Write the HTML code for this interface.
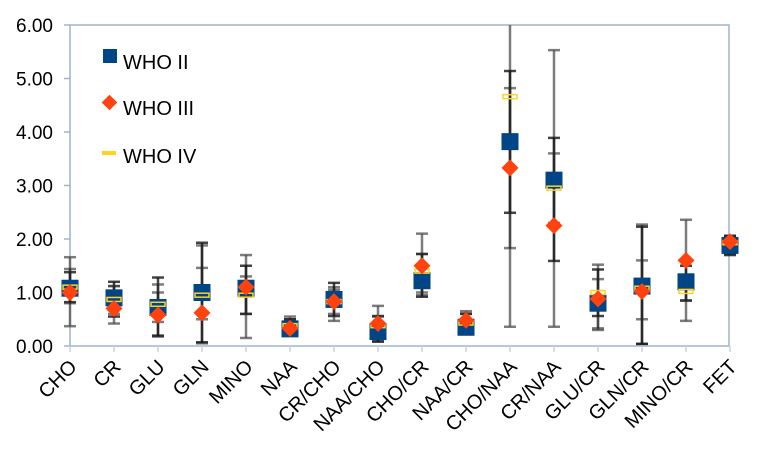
<!DOCTYPE html>
<html><head><meta charset="utf-8"><style>
body{margin:0;background:#fff}
svg text{font-family:"Liberation Sans",Arial,sans-serif;fill:#000}
</style></head><body>
<svg id="chart" width="773" height="457" xmlns="http://www.w3.org/2000/svg">
<g id="grid"></g>
<g id="bars"></g>
<g id="marks"></g>
<g id="legend">
<rect x="103" y="49" width="14" height="14" fill="#004586"/>
<text x="123" y="69" font-size="20">WHO II</text>
<rect x="104" y="97" width="11" height="11" fill="#ff420e" transform="rotate(45 109.5 102.5)"/>
<text x="123" y="115" font-size="20">WHO III</text>
<rect x="102" y="151" width="14" height="4" fill="#ffd320"/>
<text x="123" y="163" font-size="20">WHO IV</text>
</g>
</svg>
<script>
const categories=["CHO","CR","GLU","GLN","MINO","NAA","CR/CHO","NAA/CHO","CHO/CR","NAA/CR","CHO/NAA","CR/NAA","GLU/CR","GLN/CR","MINO/CR","FET"];
const who2=[1.08,0.9,0.72,1.0,1.08,0.32,0.87,0.27,1.22,0.35,3.82,3.1,0.8,1.12,1.2,1.88];
const who3=[1.0,0.7,0.58,0.62,1.1,0.33,0.83,0.42,1.5,0.48,3.33,2.25,0.88,1.02,1.6,1.95];
const who4=[1.1,0.87,0.78,0.95,0.95,0.38,0.83,0.38,1.4,0.43,4.66,2.95,1.0,1.08,1.02,1.93];
const who2Low=[0.82,0.55,0.18,0.07,0.6,0.2,0.56,0.08,0.92,0.25,2.49,1.59,0.56,0.04,0.85,1.7];
const who2High=[1.38,1.2,1.28,1.93,1.5,0.5,1.18,0.56,1.72,0.6,5.14,3.89,1.43,2.23,1.5,2.06];
const who3Low=[0.37,0.42,0.2,0.05,0.15,0.25,0.47,0.1,0.95,0.3,0.36,0.36,0.3,0.04,0.47,1.72];
const who3High=[1.66,1.12,1.0,1.88,1.7,0.55,1.1,0.75,2.1,0.65,6.2,5.53,1.52,2.27,2.36,2.06];
const who4Low=[0.8,0.6,0.45,0.5,0.6,0.28,0.6,0.3,1.0,0.35,1.83,2.3,0.33,0.5,0.85,1.72];
const who4High=[1.44,1.12,1.15,1.46,1.3,0.5,1.05,0.55,1.72,0.6,4.82,3.6,1.25,1.6,1.3,2.04];
const yTicks=["0.00","1.00","2.00","3.00","4.00","5.00","6.00"];
const L=70,R=729,T=25,B=346,STEP=44,YMAX=6;
const NS="http://www.w3.org/2000/svg";
function xs(i){return L+i*STEP;}
function ys(v){return B-(Math.min(v,YMAX))*(B-T)/YMAX;}
function mk(tag,attrs,parent){const e=document.createElementNS(NS,tag);for(const k in attrs)e.setAttribute(k,attrs[k]);parent.appendChild(e);return e;}
const grid=document.getElementById('grid'),bars=document.getElementById('bars'),marks=document.getElementById('marks');
let e=mk('rect',{x:L,y:T,width:R-L,height:B-T,fill:'none',stroke:'#a0b4cc','stroke-width':1.5},grid);


yTicks.forEach((t,i)=>{const v=parseFloat(t);const y=ys(v);
 let tk=mk('line',{x1:L-6,x2:L,y1:y,y2:y,stroke:'#a0b4cc','stroke-width':1.5},grid);
 
 
 let tx=mk('text',{x:L-17,y:y+7,'text-anchor':'end','font-size':19},grid);tx.textContent=t;
 
 
});
categories.forEach((c,i)=>{const x=xs(i);
 let tk=mk('line',{x1:x,x2:x,y1:B,y2:B+6,stroke:'#c8d2de','stroke-width':1.5},grid);
 
 
 let tx=mk('text',{x:x+8,y:B+22,'text-anchor':'end','font-size':20,transform:`rotate(-45 ${x+8} ${B+22})`},grid);tx.textContent=c;
 
 
});
function errbar(i,lo,hi,col){const x=xs(i);
 let g=mk('g',{stroke:col,'stroke-width':2.5},bars);
 
 
 mk('line',{x1:x,x2:x,y1:ys(lo),y2:ys(hi)},g);
 if(hi<YMAX)mk('line',{x1:x-6,x2:x+6,y1:ys(hi),y2:ys(hi)},g);
 mk('line',{x1:x-6,x2:x+6,y1:ys(lo),y2:ys(lo)},g);
}
categories.forEach((c,i)=>{errbar(i,who3Low[i],who3High[i],'rgba(80,80,80,0.75)');errbar(i,who2Low[i],who2High[i],'rgba(20,20,20,0.8)');errbar(i,who4Low[i],who4High[i],'rgba(40,40,40,0.6)');});
categories.forEach((c,i)=>{const x=xs(i);
 let s=mk('rect',{x:x-8.5,y:ys(who2[i])-8.5,width:17,height:17,fill:'#004586'},marks);
 
 
 let w=mk('rect',{x:x-7,y:ys(who4[i])-2,width:14,height:4,fill:'none',stroke:'#ffd320','stroke-width':1.5},marks);
 
 
 let y3=ys(who3[i]);
 let d=mk('rect',{x:x-6,y:y3-6,width:12,height:12,fill:'#ff420e',transform:`rotate(45 ${x} ${y3})`},marks);
 
 
});
</script>
</body></html>
